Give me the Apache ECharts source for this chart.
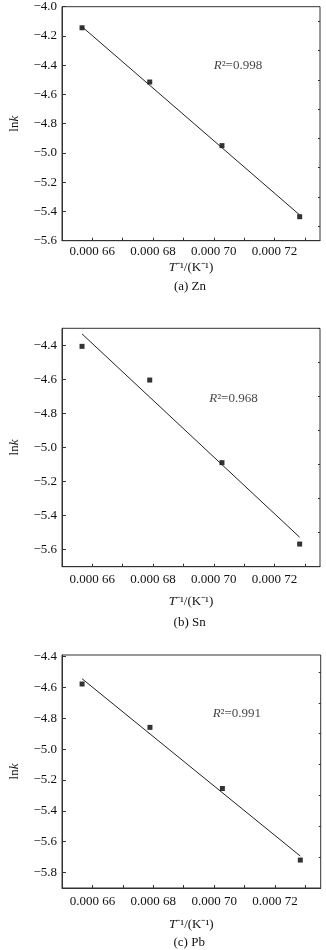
<!DOCTYPE html>
<html>
<head>
<meta charset="utf-8">
<script src="https://cdn.jsdelivr.net/npm/echarts@6/dist/echarts.min.js"></script>
<style>
  html, body { margin: 0; padding: 0; background: #fff; }
  #chart { width: 326px; height: 950px; }
</style>
</head>
<body>
<div id="chart"></div>
<script>
const invT = [0.0006566, 0.0006789, 0.0007027, 0.0007283];

const lnkZn = [-4.144, -4.515, -4.950, -5.436];
const lnkSn = [-4.406, -4.604, -5.089, -5.567];
const lnkPb = [-4.578, -4.859, -5.255, -5.719];

const fitZn = [[0.0006566, -4.137], [0.0007283, -5.424]];
const fitSn = [[0.0006566, -4.333], [0.0007283, -5.527]];
const fitPb = [[0.0006566, -4.544], [0.0007283, -5.693]];

const r2Text = ['0.998', '0.968', '0.991'];
const r2Pos = [[0.0007000, -4.403], [0.0006985, -4.711], [0.0006995, -4.768]];

const captions = ['(a) Zn', '(b) Sn', '(c) Pb'];

const xLabelTicks = [0.00066, 0.00068, 0.0007, 0.00072];
const xAllTicks = [0.00066, 0.00067, 0.00068, 0.00069, 0.0007, 0.00071, 0.00072, 0.00073];

const yLabelsZn = [-4.0, -4.2, -4.4, -4.6, -4.8, -5.0, -5.2, -5.4, -5.6];
const yMinorZn = [-4.1, -4.3, -4.5, -4.7, -4.9, -5.1, -5.3, -5.5];
const yLabelsSn = [-4.4, -4.6, -4.8, -5.0, -5.2, -5.4, -5.6];
const yMinorSn = [-4.3, -4.5, -4.7, -4.9, -5.1, -5.3, -5.5, -5.7];
const yLabelsPb = [-4.4, -4.6, -4.8, -5.0, -5.2, -5.4, -5.6, -5.8];
const yMinorPb = [-4.5, -4.7, -4.9, -5.1, -5.3, -5.5, -5.7, -5.9];

const FONT = '"Liberation Serif", "Times New Roman", serif';
const TEXT = '#111';
const AXIS = '#333';
const FS = 13;

const panels = [
  { lnk: lnkZn, fit: fitZn, yLabels: yLabelsZn, yMinor: yMinorZn, yMin: -5.6, yMax: -4.0,
    grid: { left: 60, top: 6.7, width: 260, height: 234 }, xMargin: 4, xNameGap: 20, capTop: 280 },
  { lnk: lnkSn, fit: fitSn, yLabels: yLabelsSn, yMinor: yMinorSn, yMin: -5.7, yMax: -4.3,
    grid: { left: 59.3, top: 328.3, width: 260.7, height: 238.4 }, xMargin: 6, xNameGap: 28, capTop: 616 },
  { lnk: lnkPb, fit: fitPb, yLabels: yLabelsPb, yMinor: yMinorPb, yMin: -5.9, yMax: -4.39,
    grid: { left: 57.7, top: 655, width: 263, height: 233 }, xMargin: 7, xNameGap: 30, capTop: 936 },
];

const fmtY = (v) => (v < 0 ? '\u2212' : '') + Math.abs(v).toFixed(1);
const fmtX = (v) => '0.000 ' + Math.round(v * 1e5);

const grid = [];
const xAxis = [];
const yAxis = [];
const series = [];
const title = [];

panels.forEach((p, i) => {
  grid.push({ ...p.grid, show: true, borderColor: AXIS, borderWidth: 1, containLabel: false });

  xAxis.push({
    type: 'value',
    gridIndex: i,
    min: 0.00065,
    max: 0.000735,
    name: '{i|T}\u207B\u00B9/(K\u207B\u00B9)',
    nameLocation: 'middle',
    nameGap: p.xNameGap,
    nameTextStyle: {
      fontFamily: FONT,
      fontSize: FS,
      color: TEXT,
      rich: { i: { fontFamily: FONT, fontSize: FS, fontStyle: 'italic', color: TEXT } },
    },
    axisLine: { show: true, lineStyle: { color: AXIS, width: 1 } },
    axisTick: { show: true, inside: true, length: 3, customValues: xAllTicks, lineStyle: { color: AXIS } },
    axisLabel: {
      customValues: xLabelTicks,
      formatter: fmtX,
      margin: p.xMargin,
      fontFamily: FONT,
      fontSize: FS,
      color: TEXT,
    },
    splitLine: { show: false },
  });

  yAxis.push({
    type: 'value',
    gridIndex: i,
    min: p.yMin,
    max: p.yMax,
    name: 'ln{i|k}',
    nameLocation: 'middle',
    nameGap: 41,
    nameTextStyle: {
      fontFamily: FONT,
      fontSize: FS,
      color: TEXT,
      rich: { i: { fontFamily: FONT, fontSize: FS, fontStyle: 'italic', color: TEXT } },
    },
    axisLine: { show: true, lineStyle: { color: AXIS, width: 1 } },
    axisTick: { show: true, inside: true, length: 4, customValues: p.yLabels, lineStyle: { color: AXIS } },
    axisLabel: {
      customValues: p.yLabels,
      formatter: fmtY,
      margin: 5,
      fontFamily: FONT,
      fontSize: FS,
      color: TEXT,
    },
    splitLine: { show: false },
  });

  // minor ticks only
  yAxis.push({
    type: 'value',
    gridIndex: i,
    min: p.yMin,
    max: p.yMax,
    axisLine: { show: false },
    axisTick: { show: true, inside: true, length: 2, customValues: p.yMinor, lineStyle: { color: AXIS } },
    axisLabel: { show: false },
    splitLine: { show: false },
  });

  const yIdx = i * 2;

  series.push({
    type: 'line',
    xAxisIndex: i,
    yAxisIndex: yIdx,
    data: p.fit,
    symbol: 'none',
    lineStyle: { color: '#222', width: 1 },
    silent: true,
  });

  series.push({
    type: 'scatter',
    xAxisIndex: i,
    yAxisIndex: yIdx,
    data: invT.map((x, k) => [x, p.lnk[k]]),
    symbol: 'rect',
    symbolSize: 5,
    itemStyle: { color: '#000' },
  });

  series.push({
    type: 'scatter',
    xAxisIndex: i,
    yAxisIndex: yIdx,
    data: [r2Pos[i]],
    symbolSize: 0,
    silent: true,
    label: {
      show: true,
      position: 'right',
      distance: 0,
      formatter: '{i|R}\u00B2=' + r2Text[i],
      fontFamily: FONT,
      fontSize: FS,
      color: TEXT,
      rich: { i: { fontFamily: FONT, fontSize: FS, fontStyle: 'italic', color: TEXT } },
    },
  });

  title.push({
    text: captions[i],
    left: p.grid.left + p.grid.width / 2,
    top: p.capTop,
    textAlign: 'center',
    padding: 0,
    textStyle: { fontFamily: FONT, fontSize: FS, fontWeight: 'normal', color: TEXT },
  });
});

const chart = echarts.init(document.getElementById('chart'));
chart.setOption({
  animation: false,
  backgroundColor: '#fff',
  title,
  grid,
  xAxis,
  yAxis,
  series,
});
</script>
</body>
</html>
